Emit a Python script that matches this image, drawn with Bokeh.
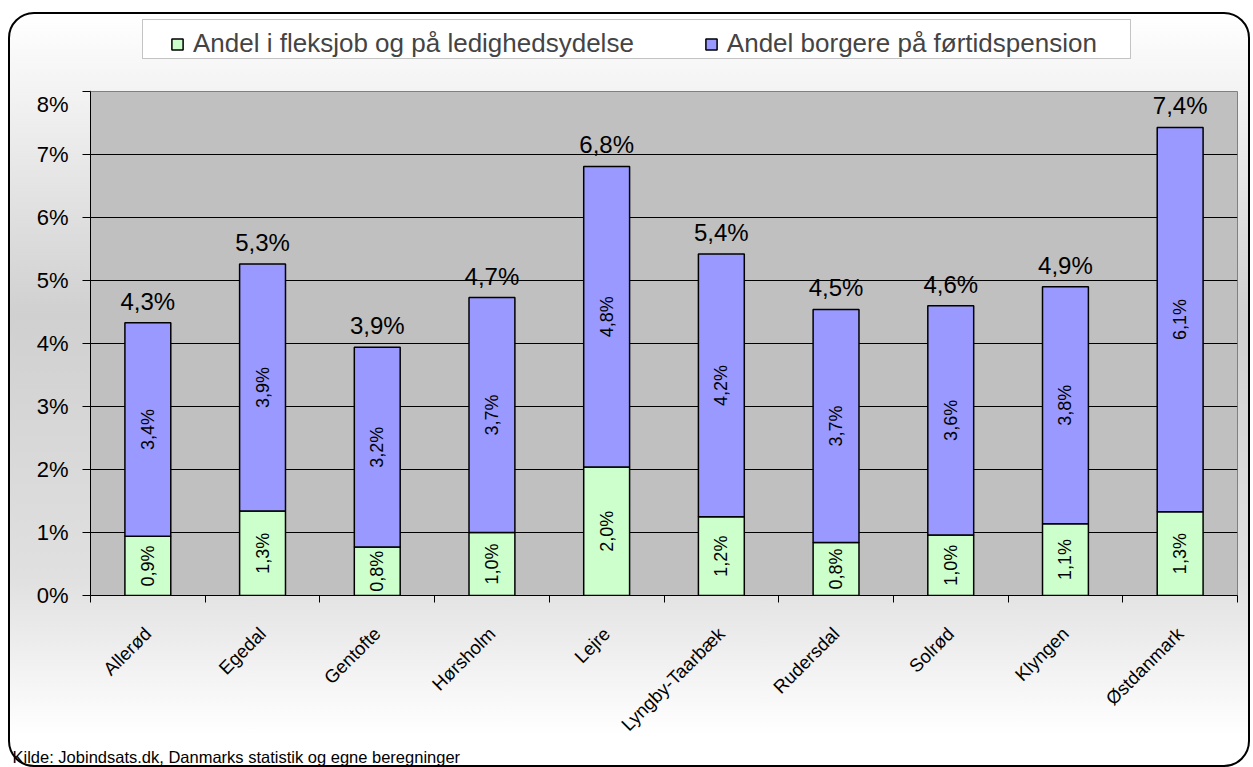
import math
from bokeh.plotting import figure
from bokeh.layouts import column
from bokeh.models import (ColumnDataSource, FixedTicker, Legend, LegendItem,
                          LabelSet, Title, Range1d, BoxAnnotation)
from bokeh.core.properties import value
from bokeh.embed import file_html
from bokeh.resources import INLINE

# ---------------- data ----------------
kommuner = ["Allerød", "Egedal", "Gentofte", "Hørsholm", "Lejre",
            "Lyngby-Taarbæk", "Rudersdal", "Solrød", "Klyngen", "Østdanmark"]
fleksjob = [0.94, 1.34, 0.77, 1.00, 2.04, 1.25, 0.84, 0.96, 1.14, 1.33]
foertid = [3.39, 3.92, 3.17, 3.73, 4.77, 4.17, 3.70, 3.64, 3.76, 6.10]
y_ticks = [0, 1, 2, 3, 4, 5, 6, 7, 8]
y_tick_labels = ["0%", "1%", "2%", "3%", "4%", "5%", "6%", "7%", "8%"]
legend_labels = ["Andel i fleksjob og på ledighedsydelse",
                 "Andel borgere på førtidspension"]
source_text = "Kilde: Jobindsats.dk, Danmarks statistik og egne beregninger"

FONT = "Liberation Sans"
GREEN = "#ccffcc"
BLUE = "#9999ff"


def pct(v):
    return ("%.1f" % v).replace(".", ",") + "%"


centers = [i + 0.5 for i in range(len(kommuner))]
total = [a + b for a, b in zip(fleksjob, foertid)]
src = ColumnDataSource(dict(
    x=centers,
    fleks=fleksjob,
    tot=total,
    fleks_mid=[v / 2 for v in fleksjob],
    fort_mid=[a + b / 2 for a, b in zip(fleksjob, foertid)],
    fleks_lbl=[pct(v) for v in fleksjob],
    fort_lbl=[pct(v) for v in foertid],
    tot_lbl=[pct(v) for v in total],
))

W = 1238
LEG_H = 77
MAIN_H = 674
FRAME_W = 1147

# ---------------- legend strip (frame aligned with the chart frame) ----------------
lf = figure(width=W, height=LEG_H, output_backend="svg", toolbar_location=None,
            x_range=Range1d(0, FRAME_W), y_range=Range1d(0, LEG_H), min_border=0,
            x_axis_location=None, y_axis_location=None)
lf.grid.visible = False
lf.outline_line_color = None
lf.background_fill_alpha = 0
lf.border_fill_alpha = 0
lf.add_layout(BoxAnnotation(left=52, right=1040, bottom=33, top=72,
                            fill_color="white", fill_alpha=1,
                            line_color="#404040", line_width=1, level="annotation"))
proxy = ColumnDataSource(dict(x=[-100], top=[0]))
l1 = lf.vbar(x="x", top="top", width=1, source=proxy,
             fill_color=GREEN, line_color="black", line_width=1.5)
l2 = lf.vbar(x="x", top="top", width=1, source=proxy,
             fill_color=BLUE, line_color="black", line_width=1.5)
leg = Legend(items=[LegendItem(label=legend_labels[0], renderers=[l1]),
                    LegendItem(label=legend_labels[1], renderers=[l2])],
             orientation="horizontal", location=(80, 32),
             label_text_font=FONT, label_text_font_size="26px",
             glyph_width=14, glyph_height=14, label_standoff=9,
             spacing=70, padding=7, margin=0, label_height=24,
             border_line_color=None, background_fill_alpha=0)
lf.add_layout(leg, "center")

# ---------------- main chart ----------------
p = figure(width=W, height=MAIN_H, output_backend="svg", toolbar_location=None,
           x_range=Range1d(0, len(kommuner)), y_range=Range1d(0, 8),
           min_border_left=80, min_border_right=11, min_border_top=0,
           min_border_bottom=168)
p.border_fill_alpha = 0
p.background_fill_color = "#c0c0c0"
p.outline_line_color = "#808080"
p.outline_line_width = 1

r1 = p.vbar(x="x", width=0.4, bottom=0, top="fleks", source=src,
            fill_color=GREEN, line_color="black", line_width=1.5)
r2 = p.vbar(x="x", width=0.4, bottom="fleks", top="tot", source=src,
            fill_color=BLUE, line_color="black", line_width=1.5)

p.xgrid.visible = False
p.ygrid.ticker = FixedTicker(ticks=y_ticks)
p.ygrid.grid_line_color = "#000000"
p.ygrid.grid_line_width = 1
p.ygrid.level = "underlay"

ya = p.yaxis[0]
ya.ticker = FixedTicker(ticks=y_ticks, minor_ticks=[])
ya.major_label_overrides = {t: l for t, l in zip(y_ticks, y_tick_labels)}
ya.major_label_text_font = FONT
ya.major_label_text_font_size = "22px"
ya.major_label_text_color = "black"
ya.major_tick_out = 8
ya.major_tick_in = 0
ya.major_label_standoff = 14
ya.axis_line_color = "black"
ya.major_tick_line_color = "black"

xa = p.xaxis[0]
xa.ticker = FixedTicker(ticks=centers, minor_ticks=list(range(len(kommuner) + 1)))
xa.major_label_overrides = {c: k for c, k in zip(centers, kommuner)}
xa.major_label_orientation = math.pi / 4
xa.major_label_text_font = FONT
xa.major_label_text_font_size = "18.5px"
xa.major_label_text_color = "black"
xa.major_tick_line_color = None
xa.minor_tick_line_color = "black"
xa.minor_tick_out = 7
xa.minor_tick_in = 0
xa.major_label_standoff = 28
xa.axis_line_color = "black"

p.add_layout(LabelSet(x="x", y="fleks_mid", text="fleks_lbl", source=src,
                      angle=math.pi / 2, text_align="center", text_baseline="middle",
                      text_font=value(FONT), text_font_size="18px", text_color="black"))
p.add_layout(LabelSet(x="x", y="fort_mid", text="fort_lbl", source=src,
                      angle=math.pi / 2, text_align="center", text_baseline="middle",
                      text_font=value(FONT), text_font_size="18px", text_color="black"))
p.add_layout(LabelSet(x="x", y="tot", text="tot_lbl", source=src,
                      y_offset=8, text_align="center", text_baseline="bottom",
                      text_font=value(FONT), text_font_size="24px", text_color="black"))

p.add_layout(Title(text=source_text, align="left", offset=-78, standoff=0,
                   text_font=FONT, text_font_size="16.5px", text_font_style="normal",
                   text_color="black"), "below")

page = column(lf, p, spacing=0)
page.styles = {"border": "2px solid black", "border-radius": "26px",
               "margin-left": "8px", "margin-top": "12px",
               "background": "linear-gradient(to bottom, #ffffff 0%, #d0d0d0 40%, #e0e0e0 75%, #ffffff 96%)"}

open("out.html", "w").write(file_html(page, INLINE))
